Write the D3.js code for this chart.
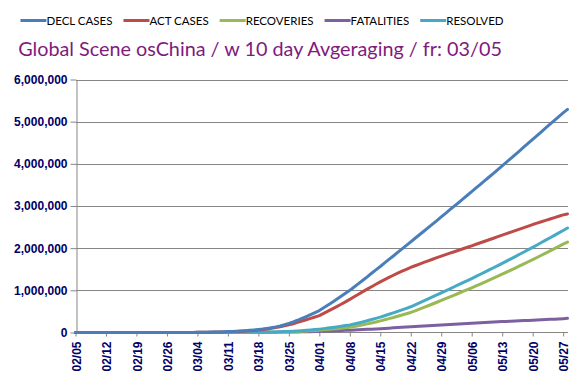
<!DOCTYPE html>
<html><head><meta charset="utf-8">
<script src="https://cdn.jsdelivr.net/npm/d3@7/dist/d3.min.js"></script>
<style>
html,body{margin:0;padding:0;background:#fff;}
svg{display:block;}
</style></head>
<body>
<svg id="chart" width="577" height="384"></svg>
<script>
// ---- data (values in thousands) ----
const startDate = "2020-02-05";
const tickLabels = ["02/05","02/12","02/19","02/26","03/04","03/11","03/18","03/25","04/01","04/08","04/15","04/22","04/29","05/06","05/13","05/20","05/27"];
const yTicks = [0,1000000,2000000,3000000,4000000,5000000,6000000];
const seriesNames = ["DECL CASES","ACT CASES","RECOVERIES","FATALITIES","RESOLVED"];
const seriesColors = ["#4A7EBB","#BE4B48","#98B954","#7D60A0","#46AAC5"];
const zeros28 = [0,0,0,0,0,0,0,0,0,0,0,0,0,0,0,0,0,0,0,0,0,0,0,0,0,0,0,0];
const declCases = zeros28.concat([
 5,6,7.5,9.5,12,14.5,18,22,
 26,31,37,44,51,60,70,
 82,97,114,133,155,183,215,
 250,290,333,378,425,472,520,
 585,650,718,788,858,930,1000,
 1080,1160,1240,1320,1405,1485,1565,
 1650,1733,1815,1900,1982,2065,2150,
 2235,2318,2402,2488,2572,2655,2740,
 2825,2912,2997,3082,3168,3255,3340,
 3428,3515,3600,3688,3775,3862,3950,
 4040,4130,4220,4310,4400,4490,4580,
 4670,4760,4850,4940,5030,5120,5210,5290]);
const actCases = zeros28.concat([
 3,4,5,7,9,11,14,18,
 21,25,30,36,42,50,60,
 71,84,99,116,135,157,180,
 208,240,272,303,336,368,400,
 452,505,559,614,670,727,786,
 848,909,969,1028,1086,1143,1199,
 1254,1307,1358,1407,1454,1499,1542,
 1583,1623,1662,1700,1737,1774,1810,
 1846,1881,1916,1951,1986,2021,2056,
 2092,2128,2164,2200,2236,2272,2308,
 2344,2380,2416,2452,2488,2524,2560,
 2593,2626,2658,2691,2724,2757,2790,2812]);
const recoveries = zeros28.concat([
 0,0,0.5,0.5,0.5,0.5,0.5,1,
 1,1,1,1,1.5,2,3,
 3,4,5,6,8,11,14,
 18,22,27,33,40,48,55,
 63,72,81,91,102,113,125,
 143,162,183,205,227,251,275,
 301,329,356,386,415,444,475,
 514,553,594,634,676,717,760,
 802,844,888,931,974,1017,1060,
 1105,1150,1196,1242,1289,1335,1382,
 1430,1479,1528,1578,1627,1678,1728,
 1779,1832,1884,1936,1988,2042,2095,2142]);
const fatalities = zeros28.concat([
 0,0,0,0,0.5,0.5,1,1,
 1.5,2,2.5,3,3.5,4,4,
 5,6,7,8,9,10,11,
 12,14,16,18,20,22,25,
 29,33,37,42,46,51,55,
 60,65,70,75,80,85,90,
 97,103,110,116,122,129,135,
 141,148,154,161,167,174,180,
 186,192,197,203,209,214,220,
 225,231,236,242,247,253,258,
 263,268,273,278,283,287,292,
 297,302,307,312,317,322,328,336]);
const resolved = zeros28.concat([
 0,0,0.5,0.5,1,1,1.5,2,
 2.5,3,3.5,4,5,6,7,
 8,10,12,14,17,21,25,
 30,36,43,51,60,70,80,
 92,105,118,133,148,164,180,
 203,227,253,280,307,336,365,
 398,432,466,502,537,573,610,
 655,701,748,795,843,891,940,
 988,1036,1085,1134,1183,1231,1280,
 1330,1381,1432,1484,1536,1588,1640,
 1693,1747,1801,1856,1910,1965,2020,
 2076,2133,2190,2247,2304,2362,2420,2478]);
const seriesValues = [declCases, actCases, recoveries, fatalities, resolved];
const titleText = "Global Scene osChina / w 10 day Avgeraging / fr: 03/05";

// ---- chart ----
const svg = d3.select("#chart");
const parse = d3.utcParse("%Y-%m-%d");
const start = parse(startDate);
const nDays = declCases.length;
const dates = d3.range(nDays).map(i => d3.utcDay.offset(start, i));
const tickDates = tickLabels.map(s => parse("2020-" + s.replace("/", "-")));

const x = d3.scaleUtc().domain([dates[0], dates[nDays-1]]).range([75.5, 567.5]);
const y = d3.scaleLinear().domain([0, 6000000]).range([332.5, 79.5]);

// gridlines
svg.append("g").selectAll("line").data(yTicks.slice(1)).join("line")
  .attr("x1", 76).attr("x2", 568)
  .attr("y1", d => Math.round(y(d)) + 0.5).attr("y2", d => Math.round(y(d)) + 0.5)
  .attr("stroke", "#868686").attr("stroke-width", 1);

// y axis
const yAxis = svg.append("g").attr("transform", "translate(76.5,0)")
  .call(d3.axisLeft(y).tickValues(yTicks).tickFormat(d3.format(",")).tickSize(6).tickSizeOuter(0));
yAxis.select(".domain").attr("stroke", "#868686");
yAxis.selectAll(".tick line").attr("stroke", "#868686");
yAxis.selectAll("text").attr("font-family", "Liberation Sans, Arial, sans-serif")
  .attr("font-size", 12).attr("font-weight", "bold").attr("fill", "#000066").attr("x", -9);

// x axis
const xAxis = svg.append("g").attr("transform", "translate(0,332.5)")
  .call(d3.axisBottom(x).tickValues(tickDates).tickFormat((d, i) => tickLabels[i]).tickSize(4).tickSizeOuter(0));
xAxis.select(".domain").attr("stroke", "#868686").attr("d", "M75.5,0H568");
xAxis.selectAll(".tick line").attr("stroke", "#868686");
xAxis.selectAll("text")
  .attr("font-family", "Liberation Sans, Arial, sans-serif")
  .attr("font-size", 12).attr("font-weight", "bold").attr("fill", "#000066")
  .attr("transform", "rotate(-90)")
  .attr("text-anchor", "end")
  .attr("x", -9).attr("y", 0).attr("dy", "0.38em");

// lines
const line = d3.line().x((d, i) => x(dates[i])).y(d => y(d * 1000));
const order = [3, 2, 4, 1, 0];
svg.append("g").selectAll("path").data(order).join("path")
  .attr("d", k => line(seriesValues[k]))
  .attr("fill", "none")
  .attr("stroke", k => seriesColors[k])
  .attr("stroke-width", 3)
  .attr("stroke-linejoin", "round").attr("stroke-linecap", "round");

// title
const title = svg.append("text").attr("x", 260).attr("y", 56)
  .attr("text-anchor", "middle")
  .attr("font-family", "Lato, 'Open Sans', sans-serif")
  .attr("font-size", 24).attr("fill", "#7F1A7F")
  .text(titleText);
const tw = title.node().getComputedTextLength();
title.attr("font-size", 24 * 484 / tw);

// legend
const legend = svg.append("g");
let lx = 0;
seriesNames.forEach((name, k) => {
  const g = legend.append("g").attr("transform", `translate(${lx},0)`);
  g.append("line").attr("x1", 0).attr("x2", 26).attr("y1", 0).attr("y2", 0)
    .attr("stroke", seriesColors[k]).attr("stroke-width", 3);
  const t = g.append("text").attr("x", 26).attr("y", 0).attr("dy", "0.36em")
    .attr("font-family", "Lato, 'Open Sans', sans-serif")
    .attr("font-size", 11.5).attr("fill", "#000").text(name);
  lx += 26 + t.node().getComputedTextLength() + 11;
});
legend.attr("transform", `translate(${262 - (lx - 11) / 2},20.5)`);
</script>
</body></html>
